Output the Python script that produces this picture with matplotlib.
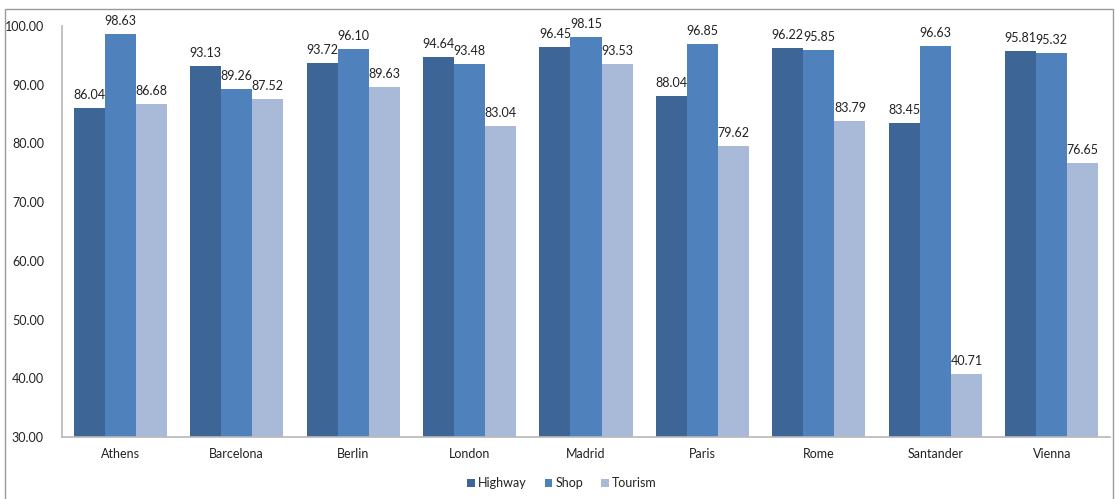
import matplotlib
matplotlib.use("Agg")
import matplotlib.pyplot as plt
import numpy as np
from matplotlib.patches import Rectangle

cities = ["Athens", "Barcelona", "Berlin", "London", "Madrid", "Paris", "Rome", "Santander", "Vienna"]
highway = [86.04, 93.13, 93.72, 94.64, 96.45, 88.04, 96.22, 83.45, 95.81]
shop = [98.63, 89.26, 96.10, 93.48, 98.15, 96.85, 95.85, 96.63, 95.32]
tourism = [86.68, 87.52, 89.63, 83.04, 93.53, 79.62, 83.79, 40.71, 76.65]
series_names = ["Highway", "Shop", "Tourism"]
colors = ["#3d6696", "#4f81bd", "#a9b9d8"]
yticks = [30, 40, 50, 60, 70, 80, 90, 100]

plt.rcParams["font.family"] = ["Lato", "DejaVu Sans"]

W, H = 1115, 499
fig = plt.figure(figsize=(W / 100, H / 100), dpi=100)

# outer chart frame
fig.patches.append(Rectangle((4.5 / W, -0.05), (1113 - 4.5) / W, 1.05 - 8.5 / H,
                             transform=fig.transFigure, fill=False,
                             edgecolor="#9a9a9a", linewidth=1.0))

ax = fig.add_axes([62 / W, 1 - 437 / H, (1110 - 62) / W, (437 - 26) / H])

x = np.arange(len(cities))
bw = 0.8 / 3
for i, (vals, name, c) in enumerate(zip([highway, shop, tourism], series_names, colors)):
    pos = x + (i - 1) * bw
    bars = ax.bar(pos, np.array(vals) - 30, bottom=30, width=bw, color=c, label=name, zorder=2)
    for p, v in zip(pos, vals):
        ax.text(p, v + 1.2, f"{v:.2f}", ha="center", va="bottom", fontsize=9, color="#222222")

ax.set_xlim(-0.5, len(cities) - 0.5)
ax.set_ylim(30, 100)
ax.set_yticks(yticks)
ax.set_yticklabels([f"{t:.2f}" for t in yticks], fontsize=9, color="#222222")
ax.set_xticks(x)
ax.set_xticklabels(cities, fontsize=9, color="#222222")
ax.tick_params(axis="both", length=0)
ax.tick_params(axis="y", pad=13)
ax.tick_params(axis="x", pad=8)

for s in ["top", "right"]:
    ax.spines[s].set_visible(False)
for s in ["left", "bottom"]:
    ax.spines[s].set_color("#b8b8b8")
    ax.spines[s].set_linewidth(1.2)

leg = fig.legend(loc="center", bbox_to_anchor=(562 / W, 1 - 483 / H), ncol=3, frameon=False,
                 fontsize=9, handlelength=0.6, handleheight=0.6, handletextpad=0.3,
                 columnspacing=1.4)
for t in leg.get_texts():
    t.set_color("#222222")

fig.savefig("out.png", dpi=100)
